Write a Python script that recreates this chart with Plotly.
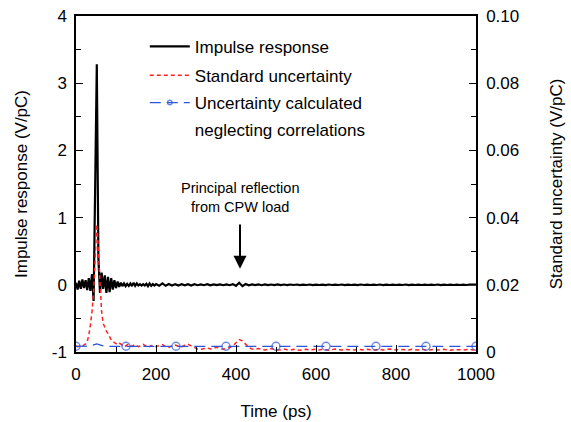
import plotly.graph_objects as go

# ---- data ----
time_ps = [4 * i for i in range(51)] + [208 + 8 * i for i in range(100)]

impulse = [
    0.03, -0.07, 0.06, -0.06, 0.08, -0.05, 0.07, -0.08, 0.10, -0.09,
    0.16, -0.24, 1.50, 3.28, 0.40, -0.12, 0.18, -0.06, 0.14, -0.12,
    0.12, -0.11, 0.10, -0.07, 0.07, -0.05, 0.05, -0.03, 0.03, -0.02,
    0.02, -0.02, 0.015, -0.015, 0.02, -0.02, 0.03, -0.015, 0.02, -0.01,
    0.01, -0.01, 0.01, -0.01, 0.015, -0.02, 0.02, -0.015, 0.01, -0.01,
    0.01,
    -0.015, 0.02, -0.015, 0.012, -0.01, 0.01, -0.01, 0.008, -0.008, 0.01,
    -0.01, 0.008, -0.006, 0.006, -0.006, 0.008, -0.008, 0.006, -0.005, 0.006,
    -0.006, 0.005, -0.006, 0.01, -0.015, 0.03, -0.02, 0.012, -0.008, 0.006,
    -0.005, 0.005, -0.006, 0.006, -0.005, 0.004, -0.004, 0.005, -0.005, 0.004,
    -0.004, 0.004, -0.003, 0.004, -0.004, 0.003, -0.003, 0.004, -0.004, 0.003,
    -0.003, 0.003, -0.004, 0.004, -0.003, 0.003, -0.003, 0.004, -0.004, 0.003,
    -0.003, 0.003, -0.004, 0.004, -0.003, 0.003, -0.003, 0.003, -0.003, 0.004,
    -0.004, 0.003, -0.003, 0.003, -0.003, 0.003, -0.003, 0.004, -0.004, 0.003,
    -0.003, 0.003, -0.003, 0.003, -0.003, 0.003, -0.003, 0.004, -0.004, 0.003,
    -0.003, 0.003, -0.003, 0.003, -0.003, 0.003, -0.003, 0.003, -0.003, 0.002,
]

std_unc = [
    0.0018, 0.0016, 0.0017, 0.0019, 0.0018, 0.0021, 0.0024, 0.0030, 0.0050, 0.0080,
    0.0120, 0.0180, 0.0290, 0.0380, 0.0300, 0.0190, 0.0120, 0.0085, 0.0070, 0.0062,
    0.0055, 0.0045, 0.0036, 0.0031, 0.0027, 0.0025, 0.0022, 0.0026, 0.0024, 0.0020,
    0.0022, 0.0018, 0.0021, 0.0024, 0.0019, 0.0017, 0.0020, 0.0022, 0.0019, 0.0016,
    0.0018, 0.0021, 0.0023, 0.0020, 0.0017, 0.0014, 0.0016, 0.0019, 0.0017, 0.0015,
    0.0016,
    0.0019, 0.0022, 0.0016, 0.0014, 0.0018, 0.0021, 0.0017, 0.0015, 0.0020, 0.0023,
    0.0018, 0.0013, 0.0009, 0.0008, 0.0010, 0.0012, 0.0009, 0.0011, 0.0014, 0.0010,
    0.0008, 0.0011, 0.0013, 0.0018, 0.0028, 0.0037, 0.0033, 0.0022, 0.0014, 0.0009,
    0.0008, 0.0010, 0.0008, 0.0006, 0.0008, 0.0010, 0.0008, 0.0006, 0.0007, 0.0009,
    0.0007, 0.0006, 0.0008, 0.0007, 0.0005, 0.0007, 0.0008, 0.0006, 0.0007, 0.0008,
    0.0006, 0.0008, 0.0007, 0.0005, 0.0007, 0.0009, 0.0007, 0.0006, 0.0008, 0.0007,
    0.0005, 0.0006, 0.0008, 0.0007, 0.0006, 0.0008, 0.0007, 0.0005, 0.0007, 0.0008,
    0.0006, 0.0007, 0.0009, 0.0007, 0.0006, 0.0008, 0.0007, 0.0005, 0.0006, 0.0008,
    0.0007, 0.0006, 0.0008, 0.0007, 0.0005, 0.0007, 0.0008, 0.0006, 0.0007, 0.0008,
    0.0006, 0.0005, 0.0007, 0.0008, 0.0007, 0.0006, 0.0007, 0.0008, 0.0006, 0.0007,
]

uncorr_time = [0, 20, 36, 44, 52, 60, 68, 80, 125, 250, 375, 500, 625, 750, 875, 1000]
uncorr_unc = [0.0017, 0.0017, 0.0018, 0.0021, 0.0024, 0.0021, 0.0018, 0.0017,
              0.0017, 0.0017, 0.0017, 0.0017, 0.0017, 0.0017, 0.0017, 0.0017]
uncorr_marker_times = [0, 125, 250, 375, 500, 625, 750, 875, 1000]

x_ticks = [0, 200, 400, 600, 800, 1000]
y1_ticks = [-1, 0, 1, 2, 3, 4]
y1_ticktext = ["-1", "0", "1", "2", "3", "4"]
y2_ticks = [0, 0.02, 0.04, 0.06, 0.08, 0.10]
y2_ticktext = ["0", "0.02", "0.04", "0.06", "0.08", "0.10"]

assert len(impulse) == len(time_ps), (len(impulse), len(time_ps))
assert len(std_unc) == len(time_ps), (len(std_unc), len(time_ps))

FONT = "Liberation Sans, Arial, sans-serif"
BLUE = "#2d55d8"
RED = "#ff2020"

fig = go.Figure()

fig.add_trace(go.Scatter(
    x=time_ps, y=impulse, mode="lines", name="Impulse response", legend="legend",
    line=dict(color="black", width=2.2), yaxis="y",
))
fig.add_trace(go.Scatter(
    x=time_ps, y=std_unc, mode="lines", name="Standard uncertainty", legend="legend2",
    line=dict(color=RED, width=1.5, dash="4px,3px"), yaxis="y2",
))
msize = [8 if t in uncorr_marker_times else 0 for t in uncorr_time]
fig.add_trace(go.Scatter(
    x=uncorr_time, y=uncorr_unc, mode="lines+markers", legend="legend3",
    name="Uncertainty calculated",
    line=dict(color=BLUE, width=1.3, dash="11px,6px"),
    marker=dict(symbol="circle-open", size=msize, color=BLUE, line=dict(width=1.4, color=BLUE)),
    yaxis="y2",
))
# second line of the third legend label
fig.add_trace(go.Scatter(
    x=[None], y=[None], mode="lines", legend="legend4", name="neglecting correlations",
    line=dict(color="rgba(0,0,0,0)", width=1), yaxis="y2", hoverinfo="skip",
))


def legend_at(ytop):
    return dict(
        x=0.172, y=ytop, xanchor="left", yanchor="top",
        bgcolor="rgba(0,0,0,0)", font=dict(size=17, family=FONT), itemwidth=40,
    )


fig.update_layout(
    width=571, height=422,
    margin=dict(l=76, r=95, t=16, b=70, autoexpand=False),
    paper_bgcolor="white", plot_bgcolor="white",
    font=dict(family=FONT, size=17, color="black"),
    showlegend=True,
    legend=legend_at(0.962),
    legend2=legend_at(0.8756),
    legend3=legend_at(0.7946),
    legend4=legend_at(0.7143),
    xaxis=dict(
        range=[0, 1000], tickvals=x_ticks, ticks="inside", ticklen=7, tickwidth=1.2,
        tickcolor="black", showline=True, linecolor="black", linewidth=1.5, mirror=True,
        showgrid=False, zeroline=False, automargin=False, ticklabelstandoff=6,
        minor=dict(dtick=100, ticks="inside", ticklen=5, tickwidth=1.2, tickcolor="black"),
        title=dict(text="Time (ps)", standoff=22, font=dict(size=17)),
        tickfont=dict(size=17),
    ),
    yaxis=dict(
        range=[-1, 4], tickvals=y1_ticks, ticktext=y1_ticktext, ticks="inside", ticklen=7,
        tickwidth=1.2, tickcolor="black", showline=True, linecolor="black", linewidth=1.5,
        showgrid=False, zeroline=False, automargin=False, ticklabelstandoff=4,
        minor=dict(dtick=0.5, ticks="inside", ticklen=5, tickwidth=1.2, tickcolor="black"),
        title=dict(text="Impulse response (V/pC)", standoff=20, font=dict(size=17)),
        tickfont=dict(size=17),
    ),
    yaxis2=dict(
        range=[0, 0.1], tickvals=y2_ticks, ticktext=y2_ticktext, ticks="inside", ticklen=7,
        tickwidth=1.2, tickcolor="black", showline=True, linecolor="black", linewidth=1.5,
        overlaying="y", side="right", showgrid=False, zeroline=False, automargin=False,
        ticklabelstandoff=5,
        minor=dict(dtick=0.01, ticks="inside", ticklen=5, tickwidth=1.2, tickcolor="black"),
        title=dict(text="Standard uncertainty (V/pC)", standoff=32, font=dict(size=17)),
        tickfont=dict(size=17),
    ),
)

fig.add_annotation(
    x=410, y=1.30, xref="x", yref="y",
    text="Principal reflection<br>from CPW load", showarrow=False,
    font=dict(size=14.5, family=FONT, color="black"), align="center",
)
fig.add_annotation(
    x=410, y=0.24, xref="x", yref="y", ax=410, ay=0.92, axref="x", ayref="y",
    text="", showarrow=True, arrowhead=2, arrowsize=1.3, arrowwidth=2, arrowcolor="black",
)

# remove the default page margin so that the figure fills the 571 x 422 window exactly
fig.write_html(
    "out.html",
    config={"displayModeBar": False},
    post_script="document.body.style.margin='0';document.body.style.overflow='hidden';",
)
